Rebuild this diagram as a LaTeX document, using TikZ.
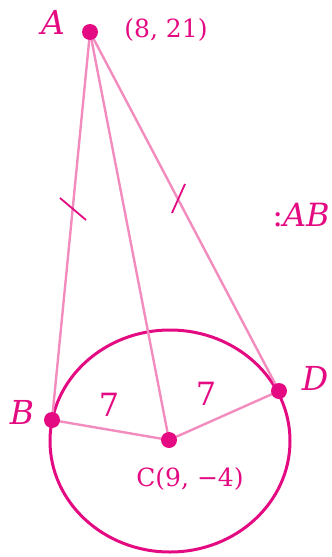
\documentclass[tikz,border=0pt]{standalone}
\usepackage{fontspec}
\setmainfont{DejaVu Serif}
\begin{document}
\begin{tikzpicture}[x=1pt,y=-1pt,
  mag/.style={draw=magc, line width=3pt},
  seg/.style={draw=pinkc, line width=2.4pt},
  tick/.style={draw=magc, line width=1.8pt},
  dot/.style={circle, fill=magc, inner sep=0pt, minimum size=16pt},
  lbl/.style={text=magc, inner sep=0pt}]
\definecolor{magc}{RGB}{228,10,130}
\definecolor{pinkc}{RGB}{243,140,190}
\useasboundingbox (0,0) rectangle (332,557);
\coordinate (A) at (90,32);
\coordinate (B) at (52,420);
\coordinate (C) at (169,440);
\coordinate (D) at (279,391);
\draw[mag] (170,441) ellipse [x radius=120, y radius=111];
\draw[seg] (A) -- (B);
\draw[seg] (A) -- (C);
\draw[seg] (A) -- (D);
\draw[seg] (B) -- (C) -- (D);
\draw[tick] (60,198) -- (86,220);
\draw[tick] (185,184) -- (172,213);
\node[dot] (a) at (A) {};
\node[dot] (b) at (B) {};
\node[dot] (c) at (C) {};
\node[dot] (d) at (D) {};
\node[lbl, font=\fontsize{33}{33}\selectfont\itshape] (la) at (53,22) {A};
\node[lbl, font=\fontsize{25}{25}\selectfont] (lac) at (166,30) {(8, 21)};
\node[lbl, font=\fontsize{32}{32}\selectfont] (lab) at (301,215) {:\textit{AB}};
\node[lbl, font=\fontsize{33}{33}\selectfont\itshape] (lb) at (22,412) {B};
\node[lbl, font=\fontsize{33}{33}\selectfont\itshape] (ld) at (315,378) {D};
\node[lbl, font=\fontsize{32}{32}\selectfont] (s1) at (109,405) {7};
\node[lbl, font=\fontsize{32}{32}\selectfont] (s2) at (206,394) {7};
\node[lbl, font=\fontsize{25}{25}\selectfont] (lc) at (190,479) {C(9, −4)};
\end{tikzpicture}
\end{document}
